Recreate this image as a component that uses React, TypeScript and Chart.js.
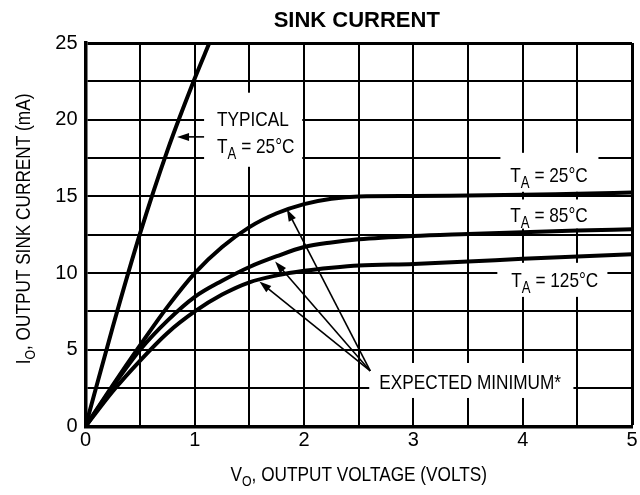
import React, { useEffect, useRef } from "react";
import { Chart, registerables } from "chart.js";

Chart.register(...registerables);

// ---- data (volts, mA) ----
const voltage = [0, 0.25, 0.5, 0.75, 1.0, 1.25, 1.5, 1.75, 2.0, 2.25, 2.5, 3.0, 3.5, 4.0, 4.5, 5.0];
const min25 = [0, 2.7, 5.3, 7.8, 10.0, 11.7, 13.0, 13.9, 14.5, 14.85, 15.0, 15.02, 15.06, 15.1, 15.18, 15.25];
const min85 = [0, 2.6, 5.0, 6.9, 8.45, 9.5, 10.4, 11.1, 11.7, 12.0, 12.2, 12.42, 12.55, 12.67, 12.77, 12.86];
const min125 = [0, 2.3, 4.3, 6.1, 7.5, 8.6, 9.4, 9.85, 10.15, 10.35, 10.5, 10.6, 10.75, 10.93, 11.08, 11.23];
const typicalV = [0, 0.25, 0.5, 0.75, 1.0, 1.133];
const typicalI = [0, 6.5, 12.6, 18.0, 22.7, 25];
const xTickLabels = [0, 1, 2, 3, 4, 5];
const yTickLabels = [0, 5, 10, 15, 20, 25];

// ---- annotations (data units) ----
const knockoutBoxes = [
  [1.085, 21.76, 1.983, 16.93],
  [3.796, 17.84, 4.693, 15.3],
  [3.796, 14.8, 4.693, 12.9],
  [3.768, 10.67, 4.775, 8.45],
  [2.596, 4.14, 4.464, 1.86],
];
const arrowTail = [2.605, 3.62];
const arrowTips = [
  [1.842, 14.17],
  [1.735, 10.76],
  [1.591, 9.45],
];
const typicalArrow = [1.085, 18.88, 0.838, 18.88];

const SANS = '"Liberation Sans", Arial, Helvetica, sans-serif';
const NARROW_SCALE = 0.82;

type Part = [string, number, number]; // text, size, dy

function partsWidth(ctx: CanvasRenderingContext2D, parts: Part[]) {
  let w = 0;
  for (const [t, s] of parts) {
    ctx.font = `${s}px ${SANS}`;
    w += ctx.measureText(t).width;
  }
  return w * NARROW_SCALE;
}
function drawParts(ctx: CanvasRenderingContext2D, x: number, y: number, parts: Part[]) {
  ctx.save();
  ctx.translate(x, y);
  ctx.scale(NARROW_SCALE, 1);
  let cx = 0;
  ctx.textAlign = "left";
  ctx.textBaseline = "alphabetic";
  for (const [t, s, dy] of parts) {
    ctx.font = `${s}px ${SANS}`;
    ctx.fillText(t, cx, dy);
    cx += ctx.measureText(t).width;
  }
  ctx.restore();
}
const ta = (rest: string): Part[] => [
  ["T", 21, 0],
  ["A", 16, 6],
  [" = " + rest, 21, 0],
];

const textLabels: { v: number; i: number; parts: Part[] }[] = [
  { v: 1.204, i: 19.6, parts: [["TYPICAL", 21, 0]] },
  { v: 1.204, i: 17.84, parts: ta("25°C") },
  { v: 3.887, i: 15.95, parts: ta("25°C") },
  { v: 3.887, i: 13.34, parts: ta("85°C") },
  { v: 3.896, i: 9.1, parts: ta("125°C") },
  { v: 2.688, i: 2.45, parts: [["EXPECTED MINIMUM*", 21, 0]] },
];

function arrow(ctx: CanvasRenderingContext2D, x1: number, y1: number, x2: number, y2: number) {
  const a = Math.atan2(y2 - y1, x2 - x1);
  const L = 12, W = 4;
  ctx.beginPath();
  ctx.moveTo(x1, y1);
  ctx.lineTo(x2 - (L - 2) * Math.cos(a), y2 - (L - 2) * Math.sin(a));
  ctx.stroke();
  ctx.beginPath();
  ctx.moveTo(x2, y2);
  ctx.lineTo(x2 - L * Math.cos(a) + W * Math.sin(a), y2 - L * Math.sin(a) - W * Math.cos(a));
  ctx.lineTo(x2 - L * Math.cos(a) - W * Math.sin(a), y2 - L * Math.sin(a) + W * Math.cos(a));
  ctx.closePath();
  ctx.fill();
}

const annotPlugin = {
  id: "annot",
  beforeDatasetsDraw(chart: any) {
    const { ctx, scales } = chart;
    const x = scales.x, y = scales.y;
    ctx.save();
    ctx.fillStyle = "#ffffff";
    for (const [v1, i1, v2, i2] of knockoutBoxes) {
      const px1 = x.getPixelForValue(v1), px2 = x.getPixelForValue(v2);
      const py1 = y.getPixelForValue(i1), py2 = y.getPixelForValue(i2);
      ctx.fillRect(px1, py1, px2 - px1, py2 - py1);
    }
    ctx.restore();
  },
  afterDatasetsDraw(chart: any) {
    const { ctx, scales } = chart;
    const x = scales.x, y = scales.y;
    ctx.save();
    ctx.strokeStyle = "#000";
    ctx.fillStyle = "#000";
    ctx.lineWidth = 1.6;
    const tx = x.getPixelForValue(arrowTail[0]), ty = y.getPixelForValue(arrowTail[1]);
    for (const [v, i] of arrowTips) {
      arrow(ctx, tx, ty, x.getPixelForValue(v), y.getPixelForValue(i));
    }
    arrow(
      ctx,
      x.getPixelForValue(typicalArrow[0]), y.getPixelForValue(typicalArrow[1]),
      x.getPixelForValue(typicalArrow[2]), y.getPixelForValue(typicalArrow[3])
    );
    for (const l of textLabels) {
      drawParts(ctx, x.getPixelForValue(l.v), y.getPixelForValue(l.i), l.parts);
    }
    ctx.restore();
  },
  afterDraw(chart: any) {
    const { ctx, chartArea } = chart;
    ctx.save();
    ctx.fillStyle = "#000";
    // title
    ctx.font = `bold 22px ${SANS}`;
    ctx.textAlign = "center";
    ctx.textBaseline = "alphabetic";
    ctx.fillText("SINK CURRENT", (chartArea.left + chartArea.right) / 2 - 2, 27);
    // x axis title
    const xParts: Part[] = [["V", 21, 0], ["O", 15, 5], [", OUTPUT VOLTAGE (VOLTS)", 21, 0]];
    const xw = partsWidth(ctx, xParts);
    drawParts(ctx, (chartArea.left + chartArea.right) / 2 - xw / 2, 481, xParts);
    // y axis title
    const yParts: Part[] = [["I", 21, 0], ["O", 15, 5], [", OUTPUT SINK CURRENT (mA)", 21, 0]];
    const yw = partsWidth(ctx, yParts);
    ctx.translate(30, 229);
    ctx.rotate(-Math.PI / 2);
    drawParts(ctx, -yw / 2, 0, yParts);
    ctx.restore();
  },
};

export default function App() {
  const ref = useRef<HTMLCanvasElement | null>(null);
  useEffect(() => {
    if (!ref.current) return;
    const lineDs = (label: string, xs: number[], ys: number[]) => ({
      label,
      data: xs.map((v, k) => ({ x: v, y: ys[k] })),
      borderColor: "#000",
      borderWidth: 4,
      pointRadius: 0,
      fill: false,
      cubicInterpolationMode: "monotone" as const,
      borderCapStyle: "butt" as const,
    });
    const tickFont = { family: SANS, size: 20 };
    const chart = new Chart(ref.current, {
      type: "line",
      data: {
        datasets: [
          lineDs("Typical 25°C", typicalV, typicalI),
          lineDs("Min 25°C", voltage, min25),
          lineDs("Min 85°C", voltage, min85),
          lineDs("Min 125°C", voltage, min125),
        ],
      },
      options: {
        animation: false,
        responsive: false,
        layout: { padding: { left: 0, top: 43, right: 8, bottom: 0 } },
        plugins: { legend: { display: false }, tooltip: { enabled: false }, title: { display: false } },
        scales: {
          x: {
            type: "linear",
            min: 0,
            max: 5,
            afterFit: (s: any) => { s.height = 68.5; },
            ticks: {
              stepSize: 0.5,
              autoSkip: false,
              maxRotation: 0,
              padding: 2,
              color: "#000",
              font: tickFont,
              callback: (v: any) => (xTickLabels.includes(Number(v)) ? String(v) : ""),
            },
            grid: {
              color: "#000",
              drawTicks: false,
              lineWidth: (c: any) => (c.tick && c.tick.value === 5 ? 3 : 2),
            },
            border: { display: true, color: "#000", width: 3.5 },
          },
          y: {
            type: "linear",
            min: 0,
            max: 25,
            afterFit: (s: any) => { s.width = 85.5; },
            ticks: {
              stepSize: 2.5,
              autoSkip: false,
              padding: 8,
              color: "#000",
              font: tickFont,
              callback: (v: any) => (yTickLabels.includes(Number(v)) ? String(v) : ""),
            },
            grid: {
              color: "#000",
              drawTicks: false,
              lineWidth: (c: any) => (c.tick && c.tick.value === 25 ? 3 : 2),
            },
            border: { display: true, color: "#000", width: 3.5 },
          },
        },
      },
      plugins: [annotPlugin],
    });
    return () => chart.destroy();
  }, []);
  return (
    <div style={{ position: "absolute", left: 0, top: 0, width: 640, height: 495, background: "#fff" }}>
      <canvas ref={ref} width={640} height={495} style={{ display: "block" }} />
    </div>
  );
}
